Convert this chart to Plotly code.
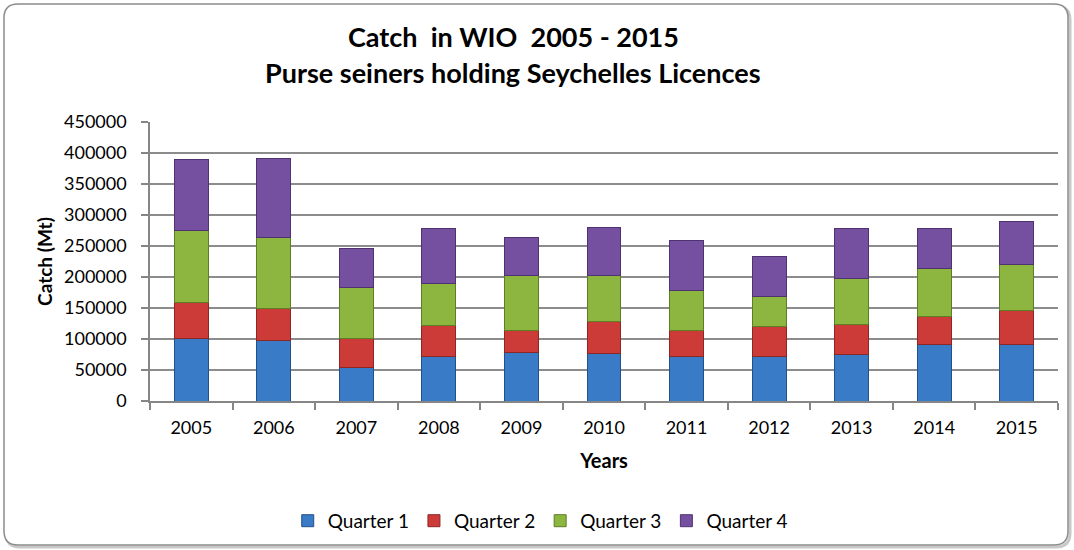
import plotly.graph_objects as go

years = ["2005", "2006", "2007", "2008", "2009", "2010", "2011", "2012", "2013", "2014", "2015"]
quarter1 = [100500, 96800, 53800, 71500, 78200, 76600, 71700, 71700, 75000, 91200, 91200]
quarter2 = [58000, 52700, 46700, 50500, 35000, 51200, 42100, 48500, 48500, 45300, 55500]
quarter3 = [116000, 115000, 82300, 68300, 88500, 73900, 64200, 48500, 74400, 77100, 73400]
quarter4 = [114500, 127000, 62900, 87600, 62500, 78200, 80900, 64200, 80900, 65300, 70100]
series_names = ["Quarter 1", "Quarter 2", "Quarter 3", "Quarter 4"]
y_ticks = [0, 50000, 100000, 150000, 200000, 250000, 300000, 350000, 400000, 450000]

colors = ["#3A7BC8", "#CC3B37", "#8DB640", "#7650A0"]
edges = ["#24508A", "#8E2623", "#5E7E26", "#4F3370"]

W, H = 1074, 550
L, R, T, B = 150, 16, 122, 149
PW, PH = W - L - R, H - T - B

def px(x):
    return (x - L) / PW

def py(y):
    return (H - B - y) / PH

FONT = "Lato, 'Open Sans', sans-serif"

fig = go.Figure()
for name, vals, c, e in zip(series_names, [quarter1, quarter2, quarter3, quarter4], colors, edges):
    fig.add_trace(go.Bar(x=years, y=vals, name=name,
                         marker=dict(color=c, line=dict(color=e, width=1))))

def rounded_path(x0, y0, x1, y1, r):
    pts = [
        f"M {px(x0 + r)},{py(y0)}",
        f"L {px(x1 - r)},{py(y0)}",
        f"Q {px(x1)},{py(y0)} {px(x1)},{py(y0 + r)}",
        f"L {px(x1)},{py(y1 - r)}",
        f"Q {px(x1)},{py(y1)} {px(x1 - r)},{py(y1)}",
        f"L {px(x0 + r)},{py(y1)}",
        f"Q {px(x0)},{py(y1)} {px(x0)},{py(y1 - r)}",
        f"L {px(x0)},{py(y0 + r)}",
        f"Q {px(x0)},{py(y0)} {px(x0 + r)},{py(y0)}",
        "Z",
    ]
    return " ".join(pts)

shapes = [
    dict(type="path", xref="paper", yref="paper", path=rounded_path(6, 6, 1070, 547, 14),
         line=dict(color="#C8C8C8", width=3), layer="below"),
    dict(type="path", xref="paper", yref="paper", path=rounded_path(4, 4, 1068, 545, 14),
         line=dict(color="#8C8C8C", width=1.5), fillcolor="white", layer="below"),
]

annotations = [
    dict(text="<b>Catch \u00a0in WIO \u00a02005 - 2015</b>", xref="paper", yref="paper",
         x=px(513), y=py(37), xanchor="center", yanchor="middle", showarrow=False,
         font=dict(size=27, color="black", family=FONT)),
    dict(text="<b>Purse seiners holding Seychelles Licences</b>", xref="paper", yref="paper",
         x=px(513), y=py(72), xanchor="center", yanchor="middle", showarrow=False,
         font=dict(size=27, color="black", family=FONT)),
]

fig.update_layout(
    width=W, height=H,
    margin=dict(l=L, r=R, t=T, b=B, pad=0),
    paper_bgcolor="white", plot_bgcolor="white",
    barmode="stack", bargap=0.59,
    font=dict(family=FONT, size=18, color="black"),
    shapes=shapes, annotations=annotations,
    legend=dict(orientation="h", xref="container", yref="container", x=0.503, y=0.053,
                xanchor="center", yanchor="middle", traceorder="normal",
                font=dict(size=19), itemwidth=30, bgcolor="rgba(0,0,0,0)"),
    xaxis=dict(type="category", showline=True, linecolor="#868686", linewidth=1.5,
               ticks="outside", tickson="boundaries", ticklen=7, tickcolor="#868686",
               tickwidth=1.5, showgrid=False, ticklabelstandoff=10,
               title=dict(text="<b>Years</b>", font=dict(size=20), standoff=17),
               tickfont=dict(size=18)),
    yaxis=dict(range=[0, 450000], tickvals=y_ticks, ticktext=[str(v) for v in y_ticks],
               showline=True, linecolor="#868686", linewidth=1.5,
               ticks="outside", ticklen=7, tickcolor="#868686", tickwidth=1.5,
               showgrid=True, gridcolor="#8C8C8C", gridwidth=1.5, zeroline=False,
               ticklabelstandoff=11,
               title=dict(text="<b>Catch (Mt)</b>", font=dict(size=19), standoff=6),
               tickfont=dict(size=18)),
)

fig.write_html("out.html", config={"displayModeBar": False},
               post_script="document.body.style.margin='0';")
